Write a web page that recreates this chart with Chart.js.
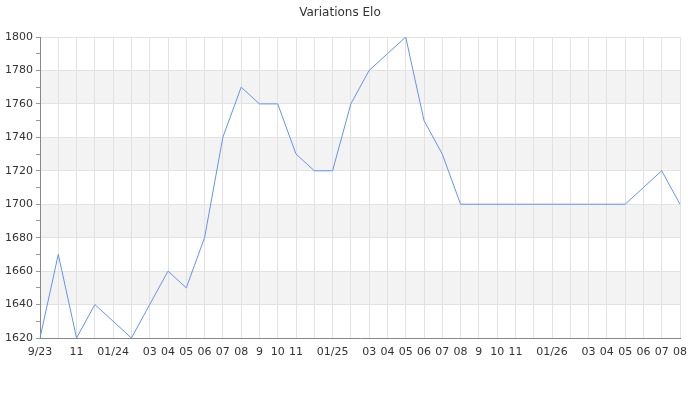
<!DOCTYPE html>
<html>
<head>
<meta charset="utf-8">
<script src="https://cdn.jsdelivr.net/npm/chart.js@4"></script>
<style>
	body { margin: 0; background: #fff; }
	#wrap { width: 700px; height: 400px; }
</style>
</head>
<body>
<div id="wrap"><canvas id="eloChart"></canvas></div>
<script>
// month labels, 09/2023 -> 08/2026 (blank = label not shown)
const monthLabels = ["9/23", "", "11", "", "01/24", "", "03", "04", "05", "06", "07", "08",
	"9", "10", "11", "", "01/25", "", "03", "04", "05", "06", "07", "08",
	"9", "10", "11", "", "01/26", "", "03", "04", "05", "06", "07", "08"];

// elo value for each month
const eloValues = [1620, 1670, 1620, 1640, 1630, 1620, 1640, 1660, 1650, 1680, 1740, 1770,
	1760, 1760, 1730, 1720, 1720, 1760, 1780, 1790, 1800, 1750, 1730, 1700,
	1700, 1700, 1700, 1700, 1700, 1700, 1700, 1700, 1700, 1710, 1720, 1700];

const yMin = 1620;
const yMax = 1800;
const bandStep = 20;

// grey bands every other 20 points
const bandsPlugin = {
	id: "bands",
	beforeDraw(chart) {
		const ctx = chart.ctx;
		const area = chart.chartArea;
		const y = chart.scales.y;
		ctx.save();
		ctx.fillStyle = "#f3f3f3";
		for (let v = yMin + bandStep; v < yMax; v += bandStep * 2) {
			const top = y.getPixelForValue(v + bandStep);
			const bottom = y.getPixelForValue(v);
			ctx.fillRect(area.left, top, area.right - area.left, bottom - top);
		}
		ctx.restore();
	},
};

new Chart("eloChart", {
	type: "line",
	data: {
		labels: monthLabels,
		datasets: [
			{
				data: eloValues,
				borderColor: "#6495ed",
				borderWidth: 1,
				pointRadius: 0,
				tension: 0,
				fill: false,
			},
		],
	},
	options: {
		animation: false,
		responsive: true,
		maintainAspectRatio: false,
		layout: {
			padding: { left: 0, right: 20, top: 0, bottom: 0 },
		},
		plugins: {
			legend: { display: false },
			tooltip: { enabled: false },
			title: {
				display: true,
				text: "Variations Elo",
				color: "#333",
				font: { family: "DejaVu Sans", size: 12, weight: "normal" },
				padding: { top: 6, bottom: 16.6 },
			},
		},
		scales: {
			x: {
				grid: {
					color: "#e2e2e2",
					drawTicks: false,
				},
				border: { color: "#888" },
				ticks: {
					autoSkip: false,
					maxRotation: 0,
					padding: 8,
					color: "#333",
					font: { family: "DejaVu Sans", size: 11 },
				},
				afterFit: function (scale) {
					scale.height = 62;
				},
			},
			y: {
				min: yMin,
				max: yMax,
				grid: {
					color: (c) => (c.tick && c.tick.value % 20 === 0 ? "#e2e2e2" : "rgba(0,0,0,0)"),
					tickColor: "#999",
					tickLength: 4,
				},
				border: { color: "#888" },
				ticks: {
					stepSize: 10,
					autoSkip: false,
					padding: 3,
					color: "#333",
					font: { family: "DejaVu Sans", size: 11 },
					callback: (v) => (v % 20 === 0 ? v : ""),
				},
				afterFit: function (scale) {
					scale.width = 40;
				},
			},
		},
	},
	plugins: [bandsPlugin],
});
</script>
</body>
</html>
